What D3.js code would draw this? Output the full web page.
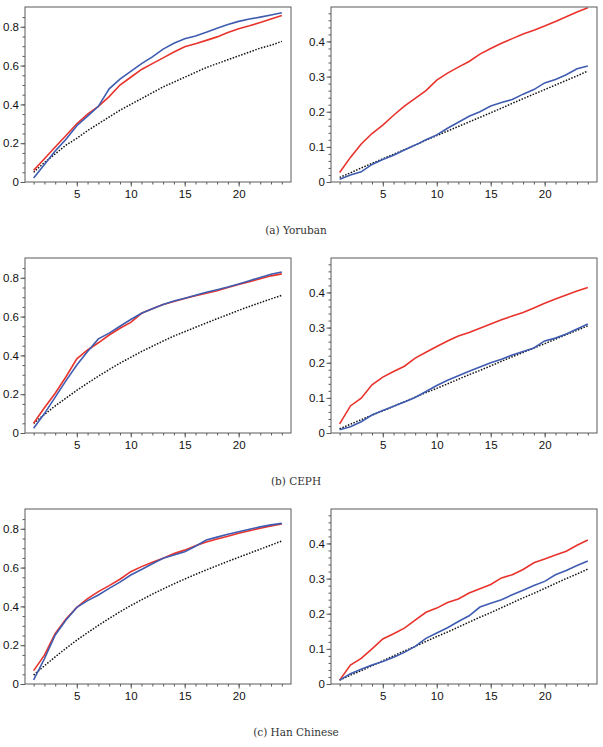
<!DOCTYPE html>
<html><head><meta charset="utf-8">
<script src="https://cdn.jsdelivr.net/npm/d3@7/dist/d3.min.js"></script>
<style>body{margin:0;background:#fff}</style>
</head><body>
<svg id="c" width="603" height="747"></svg>
<script>
const xs = d3.range(1, 25);
const captions = ["(a) Yoruban", "(b) CEPH", "(c) Han Chinese"];
const leftYTicks = [0, 0.2, 0.4, 0.6, 0.8];
const rightYTicks = [0, 0.1, 0.2, 0.3, 0.4];
const xTicks = [5, 10, 15, 20];

// Yoruban
const yorLeftBlue = [0.02,0.09,0.16,0.22,0.29,0.34,0.39,0.48,0.53,0.57,0.61,0.645,0.685,0.715,0.738,0.752,0.772,0.792,0.812,0.828,0.840,0.850,0.861,0.872];
const yorLeftRed = [0.06,0.12,0.18,0.24,0.30,0.35,0.39,0.44,0.50,0.54,0.58,0.61,0.64,0.67,0.697,0.713,0.73,0.748,0.77,0.79,0.805,0.822,0.840,0.858];
const yorLeftDot = [0.05,0.10,0.145,0.19,0.225,0.265,0.30,0.335,0.37,0.40,0.43,0.46,0.49,0.515,0.54,0.565,0.59,0.61,0.63,0.65,0.67,0.69,0.705,0.725];
const yorRightRed = [0.027,0.07,0.108,0.138,0.162,0.19,0.216,0.238,0.26,0.29,0.31,0.327,0.343,0.364,0.38,0.395,0.408,0.421,0.432,0.444,0.457,0.47,0.484,0.496];
const yorRightBlue = [0.008,0.02,0.029,0.05,0.064,0.076,0.091,0.105,0.12,0.134,0.153,0.17,0.187,0.2,0.216,0.226,0.235,0.25,0.263,0.282,0.292,0.305,0.322,0.330];
const yorRightDot = [0.013,0.026,0.04,0.053,0.066,0.079,0.092,0.105,0.119,0.132,0.145,0.158,0.171,0.184,0.197,0.21,0.224,0.237,0.25,0.263,0.276,0.289,0.302,0.316];

// CEPH
const cephLeftBlue = [0.025,0.10,0.185,0.27,0.35,0.42,0.485,0.515,0.55,0.585,0.617,0.64,0.662,0.68,0.695,0.71,0.725,0.738,0.752,0.768,0.785,0.802,0.818,0.83];
const cephLeftRed = [0.05,0.13,0.205,0.29,0.382,0.428,0.465,0.505,0.54,0.57,0.617,0.64,0.662,0.678,0.693,0.707,0.72,0.733,0.75,0.765,0.78,0.795,0.81,0.82];
const cephLeftDot = [0.05,0.095,0.14,0.18,0.22,0.257,0.293,0.327,0.36,0.39,0.42,0.447,0.474,0.5,0.522,0.545,0.567,0.589,0.61,0.632,0.652,0.672,0.691,0.71];
const cephRightRed = [0.026,0.077,0.099,0.137,0.159,0.175,0.19,0.213,0.23,0.246,0.262,0.276,0.286,0.298,0.31,0.322,0.333,0.343,0.356,0.369,0.381,0.393,0.404,0.414];
const cephRightBlue = [0.009,0.018,0.032,0.051,0.064,0.076,0.088,0.101,0.118,0.135,0.15,0.163,0.176,0.188,0.2,0.21,0.222,0.232,0.242,0.262,0.27,0.282,0.296,0.31];
const cephRightDot = [0.012,0.025,0.038,0.051,0.063,0.076,0.089,0.102,0.115,0.127,0.14,0.153,0.166,0.178,0.191,0.204,0.217,0.229,0.242,0.254,0.267,0.28,0.292,0.305];

// Han Chinese
const hanLeftBlue = [0.021,0.13,0.253,0.33,0.395,0.43,0.459,0.493,0.525,0.562,0.59,0.62,0.648,0.665,0.682,0.71,0.742,0.757,0.772,0.785,0.798,0.81,0.82,0.828];
const hanLeftRed = [0.069,0.149,0.261,0.335,0.395,0.44,0.476,0.507,0.54,0.579,0.605,0.627,0.648,0.672,0.69,0.712,0.732,0.747,0.762,0.777,0.79,0.803,0.815,0.825];
const hanLeftDot = [0.046,0.094,0.14,0.184,0.226,0.265,0.302,0.338,0.372,0.404,0.434,0.463,0.49,0.516,0.541,0.565,0.588,0.61,0.632,0.653,0.674,0.695,0.716,0.737];
const hanRightRed = [0.011,0.054,0.073,0.1,0.128,0.143,0.159,0.182,0.204,0.216,0.232,0.242,0.259,0.271,0.283,0.302,0.311,0.326,0.345,0.356,0.367,0.378,0.395,0.41];
const hanRightBlue = [0.011,0.029,0.042,0.054,0.064,0.076,0.09,0.107,0.13,0.145,0.16,0.178,0.194,0.219,0.23,0.24,0.254,0.267,0.28,0.292,0.311,0.323,0.337,0.35];
const hanRightDot = [0.011,0.025,0.038,0.052,0.066,0.08,0.094,0.107,0.121,0.135,0.148,0.162,0.176,0.19,0.203,0.217,0.231,0.245,0.258,0.272,0.286,0.3,0.313,0.327];

const panels = [
  {row:0, side:0, dot:yorLeftDot, blue:yorLeftBlue, red:yorLeftRed},
  {row:0, side:1, dot:yorRightDot, blue:yorRightBlue, red:yorRightRed},
  {row:1, side:0, dot:cephLeftDot, blue:cephLeftBlue, red:cephLeftRed},
  {row:1, side:1, dot:cephRightDot, blue:cephRightBlue, red:cephRightRed},
  {row:2, side:0, dot:hanLeftDot, blue:hanLeftBlue, red:hanLeftRed},
  {row:2, side:1, dot:hanRightDot, blue:hanRightBlue, red:hanRightRed}
];

const svg = d3.select("#c");
const W = 266, H = 175;
const lefts = [25, 331];
const bottoms = [182, 433, 684];
const RED = "#e8332c", BLUE = "#3f5cb0", FRAME = "#5a5a5a";

panels.forEach(p => {
  const x0 = lefts[p.side], y1 = bottoms[p.row], y0 = y1 - H;
  const g = svg.append("g").attr("transform", `translate(${x0},${y0})`);
  const x = d3.scaleLinear().domain([0.2, 24.85]).range([0, W]);
  const y = d3.scaleLinear().domain(p.side === 0 ? [0, 0.902] : [0, 0.498]).range([H, 0]);
  const yT = p.side === 0 ? leftYTicks : rightYTicks;
  const yMinor = p.side === 0 ? d3.range(0, 0.9, 0.05) : d3.range(0, 0.5, 0.02);
  const fmt = d => d === 0 ? "0" : d3.format(".1f")(d);

  g.append("g").attr("transform", `translate(0,${H})`)
    .call(d3.axisBottom(x).tickValues(xs).tickSize(2.5).tickFormat(""))
    .call(a => a.select(".domain").remove())
    .call(a => a.selectAll("line").attr("stroke", FRAME));
  g.append("g")
    .call(d3.axisLeft(y).tickValues(yMinor).tickSize(2.5).tickFormat(""))
    .call(a => a.select(".domain").remove())
    .call(a => a.selectAll("line").attr("stroke", FRAME));
  g.append("g").attr("transform", `translate(0,${H})`)
    .call(d3.axisBottom(x).tickValues(xTicks).tickSize(4.5).tickPadding(3))
    .call(a => a.select(".domain").remove())
    .call(a => a.selectAll("line").attr("stroke", FRAME))
    .call(a => a.selectAll("text").attr("font-family", "Liberation Sans, Arial, sans-serif").attr("font-size", "11.5px").attr("fill", "#111"));
  g.append("g")
    .call(d3.axisLeft(y).tickValues(yT).tickSize(4.5).tickPadding(1.5).tickFormat(fmt))
    .call(a => a.select(".domain").remove())
    .call(a => a.selectAll("line").attr("stroke", FRAME))
    .call(a => a.selectAll("text").attr("font-family", "Liberation Sans, Arial, sans-serif").attr("font-size", "11.5px").attr("fill", "#111"));

  const line = d3.line().x((d, i) => x(xs[i])).y(d => y(d));
  g.append("path").datum(p.dot).attr("d", line).attr("fill", "none")
    .attr("stroke", "#111").attr("stroke-width", 1.5).attr("stroke-dasharray", "1.5,1.5");
  g.append("path").datum(p.red).attr("d", line).attr("fill", "none")
    .attr("stroke", RED).attr("stroke-width", 1.6);
  g.append("path").datum(p.blue).attr("d", line).attr("fill", "none")
    .attr("stroke", BLUE).attr("stroke-width", 1.6);

  g.append("rect").attr("x", 0).attr("y", 0).attr("width", W).attr("height", H)
    .attr("fill", "none").attr("stroke", FRAME).attr("stroke-width", 1);
});

captions.forEach((c, i) => {
  svg.append("text").attr("x", 296).attr("y", bottoms[i] + 52)
    .attr("text-anchor", "middle")
    .attr("font-family", "DejaVu Serif, Liberation Serif, serif")
    .attr("font-size", "10.5px").attr("fill", "#333").text(c);
});
</script>
</body></html>
